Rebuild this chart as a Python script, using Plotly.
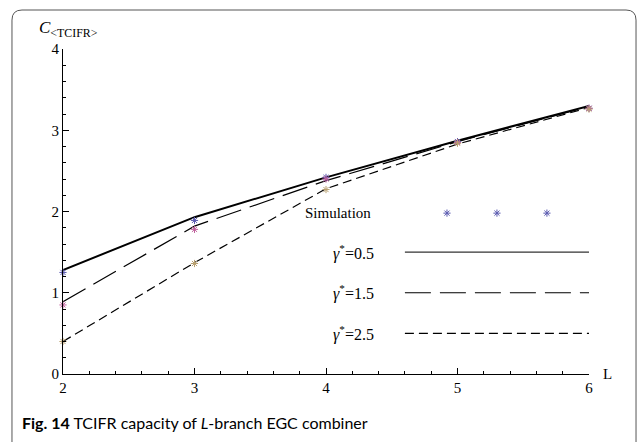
import plotly.graph_objects as go

# ---- data ----
L = [2, 3, 4, 5, 6]
cap_05 = [1.28, 1.93, 2.42, 2.87, 3.30]
cap_15 = [0.89, 1.82, 2.38, 2.86, 3.29]
cap_25 = [0.40, 1.37, 2.28, 2.83, 3.28]
sim_05 = [1.25, 1.89, 2.42, 2.86, 3.27]
sim_15 = [0.85, 1.78, 2.40, 2.85, 3.27]
sim_25 = [0.40, 1.36, 2.27, 2.84, 3.26]
x_ticks = [2, 3, 4, 5, 6]
y_ticks = [0, 1, 2, 3, 4]
gamma_vals = ["0.5", "1.5", "2.5"]

SERIF = "Liberation Serif"
c_blue, c_pink, c_tan = "#5a5ab0", "#c0609c", "#b8a070"

fig = go.Figure()
styles = [("solid", 2.0), ("26px,9px", 1.2), ("9px,5px", 1.2)]
for ys, (dash, w) in zip([cap_05, cap_15, cap_25], styles):
    fig.add_trace(go.Scatter(x=L, y=ys, mode="lines", line=dict(color="black", width=w, dash=dash),
                             cliponaxis=False, showlegend=False))
for ys, c in zip([sim_05, sim_15, sim_25], [c_blue, c_pink, c_tan]):
    fig.add_trace(go.Scatter(x=L, y=ys, mode="markers",
                             marker=dict(symbol="asterisk-open", size=6, color=c, line=dict(color=c, width=1)),
                             cliponaxis=False, showlegend=False))

# ---- manual legend ----
fig.add_trace(go.Scatter(x=[4.92, 5.30, 5.68], y=[1.98] * 3, mode="markers",
                         marker=dict(symbol="asterisk-open", size=6, color=c_blue,
                                     line=dict(color=c_blue, width=1)),
                         showlegend=False))
fig.add_annotation(x=4.09, y=1.98, text="Simulation", showarrow=False,
                   font=dict(family=SERIF, size=15, color="black"))
for yv, g, (dash, w) in zip([1.5, 1.0, 0.5], gamma_vals, styles):
    fig.add_trace(go.Scatter(x=[4.60, 6.0], y=[yv, yv], mode="lines",
                             line=dict(color="#333" if dash == "solid" else "black",
                                       width=1.4 if dash == "solid" else 1.2, dash=dash),
                             showlegend=False))
    fig.add_annotation(x=4.38, y=yv, text="<i>γ</i><sup>*</sup>=" + g,
                       showarrow=False, xanchor="right", yanchor="middle",
                       font=dict(family=SERIF, size=16, color="black"))

axis_common = dict(showline=True, linecolor="black", linewidth=1, ticks="inside", ticklen=6,
                   tickcolor="black", showgrid=False, zeroline=False,
                   tickfont=dict(family=SERIF, size=15, color="black"))
fig.update_xaxes(range=[2, 6], tickvals=x_ticks, minor=dict(dtick=0.2, ticks="inside", ticklen=3,
                 tickcolor="black"), **axis_common)
fig.update_yaxes(range=[0, 4], tickvals=y_ticks, minor=dict(dtick=0.2, ticks="inside", ticklen=3,
                 tickcolor="black"), **axis_common)

# axis titles
fig.add_annotation(x=-0.05, y=1.02, xref="paper", yref="paper", xanchor="left", yanchor="bottom",
                   text="<i>C</i><sub>&lt;TCIFR&gt;</sub>",
                   showarrow=False, font=dict(family=SERIF, size=17, color="black"))
fig.add_annotation(x=1.022, y=0.0, xref="paper", yref="paper", xanchor="left", yanchor="middle",
                   text="L", showarrow=False, font=dict(family=SERIF, size=15, color="black"))

# caption
fig.add_annotation(x=-0.082, y=-0.148, xref="paper", yref="paper", xanchor="left", yanchor="middle",
                   text="<b>Fig. 14</b> TCIFR capacity of <i>L</i>-branch EGC combiner",
                   showarrow=False, font=dict(family="Lato", size=16, color="black"))

# outer rounded frame
x0, x1, y0, y1 = -0.097, 1.0894, -0.3, 1.12
rx, ry = 0.019, 0.031
path = (f"M {x0},{y0} L {x0},{y1-ry} Q {x0},{y1} {x0+rx},{y1} "
        f"L {x1-rx},{y1} Q {x1},{y1} {x1},{y1-ry} L {x1},{y0}")
fig.add_shape(type="path", path=path, xref="paper", yref="paper",
              line=dict(color="#555", width=1))

fig.update_layout(width=637, height=442, margin=dict(l=63, r=48, t=49, b=68),
                  paper_bgcolor="white", plot_bgcolor="white", showlegend=False)
fig.write_html("out.html")
